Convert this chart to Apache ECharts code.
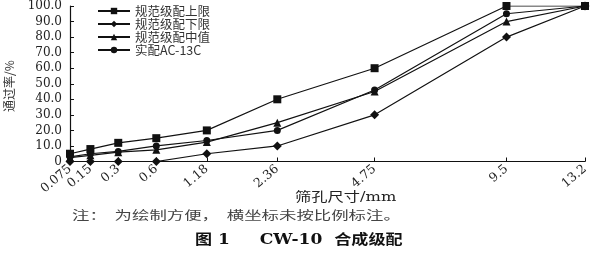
<!DOCTYPE html>
<html><head><meta charset="utf-8">
<script src="https://cdn.jsdelivr.net/npm/echarts@6/dist/echarts.min.js"></script>
<style>html,body{margin:0;padding:0;background:#fff}#c{width:600px;height:255px}</style>
</head><body><div id="c"></div>
<script>
const sieves = [0.075, 0.15, 0.3, 0.6, 1.18, 2.36, 4.75, 9.5, 13.2];
const sieveLabels = ['0.075','0.15','0.3','0.6','1.18','2.36','4.75','9.5','13.2'];
const upperLimit = [5, 8, 12, 15, 20, 40, 60, 100, 100];
const lowerLimit = [0, 0, 0, 0, 5, 10, 30, 80, 100];
const midValue = [2.5, 4, 6, 7.5, 12.5, 25, 45, 90, 100];
const actualAC13C = [3, 5, 6.5, 10, 13.5, 20, 46, 95, 100];
const seriesNames = ['规范级配上限', '规范级配下限', '规范级配中值', '实配AC-13C'];

// gradation chart x-scale (power 0.45)
const P = 0.45;
const xPos = sieves.map(s => Math.pow(s, P));
const serif = '"DejaVu Serif", "Liberation Serif", "Noto Sans CJK SC", serif';
const cjk = '"Noto Sans CJK SC", serif';

function mk(name, vals, symbol, size) {
  return {
    name, type: 'line', data: xPos.map((x, i) => [x, vals[i]]),
    symbol, symbolSize: size, showSymbol: true,
    lineStyle: { color: '#111', width: 1.2 },
    itemStyle: { color: '#111' }
  };
}

const chart = echarts.init(document.getElementById('c'), null, { renderer: 'canvas' });
chart.setOption({
  animation: false,
  backgroundColor: '#fff',
  grid: { left: 70, right: 15, top: 4.5, bottom: 93.5, containLabel: false },
  legend: {
    orient: 'vertical', left: 92, top: -0.5, itemWidth: 32, itemHeight: 8, itemGap: 0,
    textStyle: { fontFamily: cjk, fontSize: 12.5, lineHeight: 13, color: '#333' },
    data: seriesNames
  },
  xAxis: {
    type: 'value', min: xPos[0], max: xPos[xPos.length - 1],
    splitLine: { show: false },
    axisLine: { lineStyle: { color: '#111', width: 1.2 } },
    axisTick: { inside: true, length: 4, customValues: xPos, lineStyle: { color: '#111' } },
    axisLabel: {
      customValues: xPos, rotate: 40, margin: 6, fontFamily: serif, fontSize: 12.5, color: '#222',
      formatter: v => {
        let bi = 0; xPos.forEach((p, i) => { if (Math.abs(p - v) < Math.abs(xPos[bi] - v)) bi = i; });
        return sieveLabels[bi];
      }
    }
  },
  yAxis: {
    type: 'value', min: 0, max: 100, interval: 10,
    splitLine: { show: false },
    axisLine: { show: true, lineStyle: { color: '#111', width: 1.2 } },
    axisTick: { show: true, inside: true, length: 4, lineStyle: { color: '#111' } },
    axisLabel: {
      margin: 8, fontFamily: serif, fontSize: 12, color: '#222',
      formatter: v => v === 0 ? '0' : v.toFixed(1)
    }
  },
  graphic: [
    { type: 'text', x: 3, y: 112, rotation: Math.PI / 2,
      style: { text: '通过率/%', font: '12px ' + cjk, fill: '#333', textVerticalAlign: 'top' } },
    { type: 'text', x: 295, y: 191, scaleX: 1.25,
      style: { text: '筛孔尺寸/mm', font: '13px ' + serif, fill: '#222' } },
    { type: 'text', x: 72, y: 209, scaleX: 1.45,
      style: { text: '注：  为绘制方便，  横坐标未按比例标注。', font: '12px ' + cjk, fill: '#444' } },
    { type: 'text', x: 195, y: 233, scaleX: 1.22,
      style: { text: '图 1     CW-10  合成级配', font: 'bold 14px ' + serif, fill: '#111' } }
  ],
  series: [
    mk(seriesNames[0], upperLimit, 'rect', 8),
    mk(seriesNames[1], lowerLimit, 'diamond', 9),
    mk(seriesNames[2], midValue, 'triangle', 8),
    mk(seriesNames[3], actualAC13C, 'circle', 7)
  ]
});
</script></body></html>
